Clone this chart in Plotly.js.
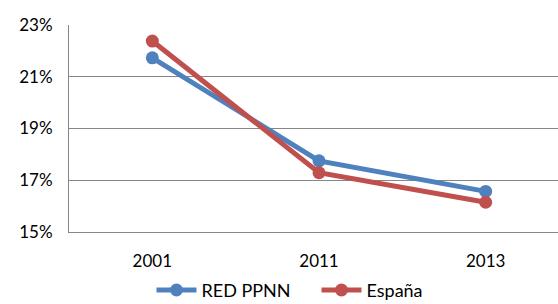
<!DOCTYPE html>
<html><head><meta charset="utf-8">
<script src="https://cdn.plot.ly/plotly-3.0.1.min.js"></script>
<style>html,body{margin:0;padding:0;overflow:hidden;width:558px;height:304px;background:#fff}</style>
</head><body><div id="chart"></div>
<script>
const years = ["2001", "2011", "2013"];
const redPPNN = [0.2173, 0.1775, 0.1657];
const espana = [0.2238, 0.1729, 0.1615];
const seriesNames = ["RED PPNN", "España"];

const traces = [
  {x: years, y: redPPNN, name: seriesNames[0], type: "scatter", mode: "lines+markers",
   line: {color: "#4F81BD", width: 5}, marker: {color: "#4F81BD", size: 13}},
  {x: years, y: espana, name: seriesNames[1], type: "scatter", mode: "lines+markers",
   line: {color: "#C0504D", width: 5}, marker: {color: "#C0504D", size: 13}}
];
const layout = {
  width: 575, height: 304,
  margin: {l: 69, r: 6, t: 25, b: 72, autoexpand: false},
  paper_bgcolor: "#fff", plot_bgcolor: "#fff",
  font: {family: "Lato, 'Liberation Sans', sans-serif", size: 17, color: "#000"},
  showlegend: true,
  legend: {orientation: "h", x: 0.165, xanchor: "left", yref: "container", y: 0.045, yanchor: "middle",
           font: {size: 18}, itemwidth: 40, tracegroupgap: 0, entrywidth: 110, entrywidthmode: "pixels"},
  xaxis: {type: "category", range: [-0.5, 2.5], showgrid: false, zeroline: false,
          showline: true, linecolor: "#868686", linewidth: 1, ticks: "", ticklen: 0,
          tickfont: {size: 17}, ticklabelstandoff: 14, automargin: false},
  yaxis: {range: [0.15, 0.23], dtick: 0.02, tick0: 0.15, tickformat: ".0%",
          showgrid: true, gridcolor: "#868686", gridwidth: 1, zeroline: false,
          showline: true, linecolor: "#868686", linewidth: 1, ticks: "",
          tickfont: {size: 17}, ticklabelstandoff: 12, automargin: false}
};
Plotly.newPlot("chart", traces, layout, {displayModeBar: false, staticPlot: true});
</script></body></html>
